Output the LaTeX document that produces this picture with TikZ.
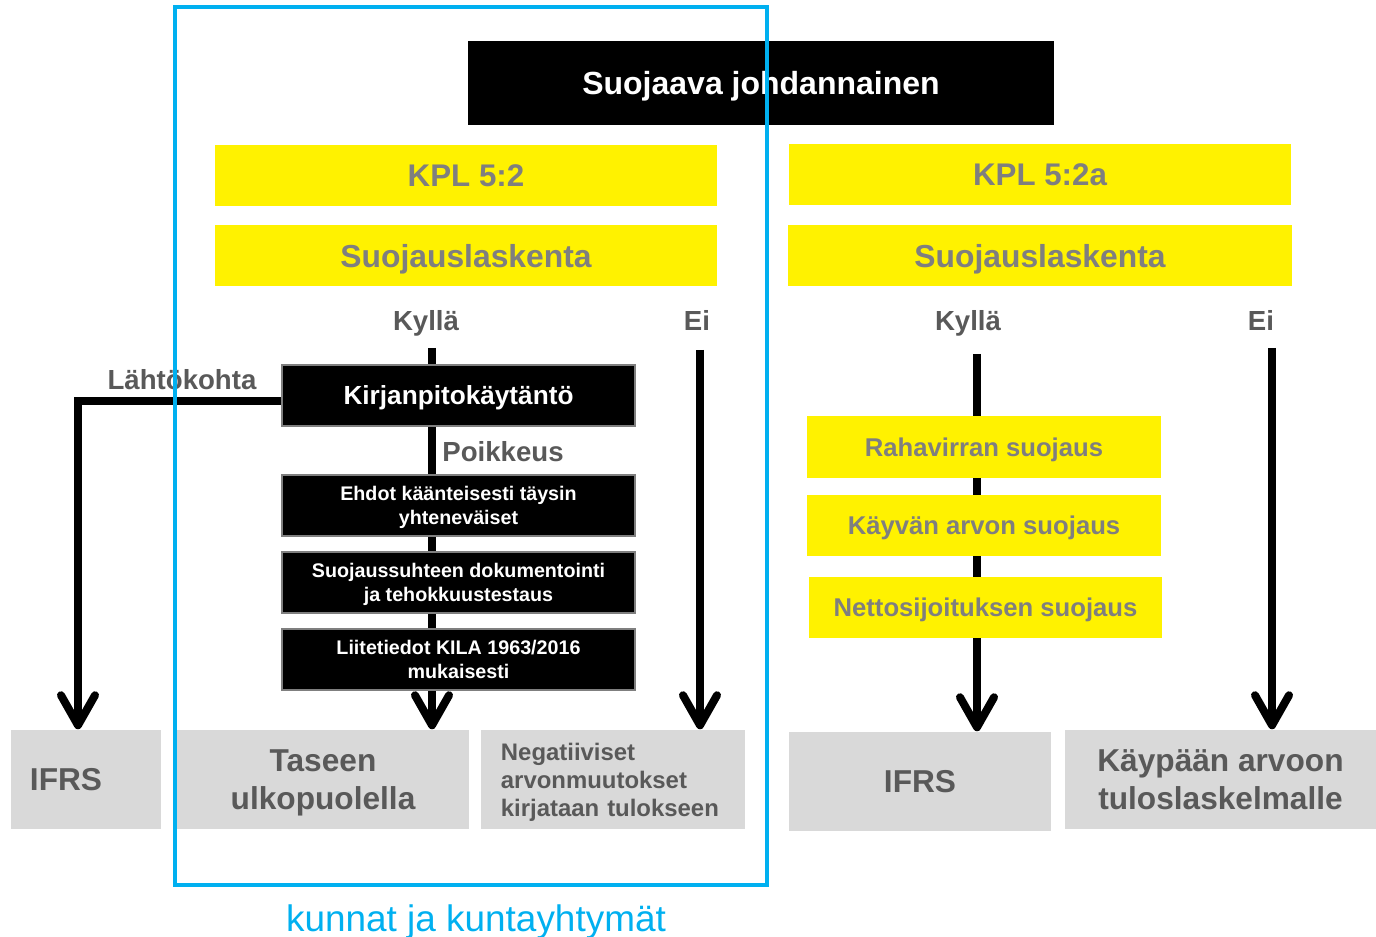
\documentclass[tikz,border=0pt]{standalone}
\usepackage{fontspec}
\setmainfont{Liberation Sans}
\usepackage{tikz}
\usetikzlibrary{arrows.meta}
\usetikzlibrary{backgrounds, calc}

\definecolor{kyellow}{RGB}{255,242,0}
\definecolor{kgray}{RGB}{217,217,217}
\definecolor{kdark}{RGB}{89,89,89}
\definecolor{kmid}{RGB}{127,127,127}
\definecolor{kblue}{RGB}{0,176,240}

\newcommand{\fsz}[2]{\fontsize{#1}{#2}\selectfont}

\begin{document}
\begin{tikzpicture}[x=0.01cm,y=-0.01cm]
	\tikzstyle{every node}=[inner sep=0pt, text depth=0pt]
	\tikzstyle{ybox}=[fill=kyellow, text=kmid, font=\bfseries]
	\tikzstyle{bbox}=[fill=black, draw=kmid, line width=0.6pt, text=white, align=center, minimum width=3.53cm, minimum height=0.61cm]
	\tikzstyle{gbox}=[fill=kgray, text=kdark, align=center, minimum height=0.99cm]
	\tikzstyle{lbl}=[text=kdark, font=\bfseries\fsz{7.85}{9}]
	\tikzstyle{flow}=[line width=0.08cm, -{Straight Barb[length=0.3cm,width=0.34cm,round]}]
	
	\useasboundingbox (0,0) rectangle (1376,937);
	
	\node [fill=black, text=white, font=\bfseries\fsz{9.1}{11}, minimum width=5.86cm, minimum height=0.84cm] (deriv) at (761,83) {Suojaava johdannainen};
	
	\node [ybox, font=\bfseries\fsz{8.9}{11}, minimum width=5.02cm, minimum height=0.61cm] (kplA) at (466,175.5) {KPL 5:2};
	\node [ybox, font=\bfseries\fsz{8.9}{11}, minimum width=5.02cm, minimum height=0.61cm] (kplB) at (1040,174.5) {KPL 5:2a};
	\node [ybox, font=\bfseries\fsz{9.05}{11}, minimum width=5.02cm, minimum height=0.61cm] (suojA) at (466,255.5) {Suojauslaskenta};
	\node [ybox, font=\bfseries\fsz{9.05}{11}, minimum width=5.03cm, minimum height=0.61cm] (suojB) at (1040,255.5) {Suojauslaskenta};
	
	\node [lbl] (kyllaA) at (426,320) {Kyllä};
	\node [lbl] (eiA) at (697,320) {Ei};
	\node [lbl] (kyllaB) at (968,320) {Kyllä};
	\node [lbl] (eiB) at (1261,320) {Ei};
	\node [lbl] (lahto) at (182,379) {Lähtökohta};
	\node [lbl] (poikkeus) at (503,451) {Poikkeus};
	
	% kunnat: kirjanpitokaytanto ja poikkeus
	\node [bbox, font=\bfseries\fsz{7.45}{9}] (kirjanp) at (458.5,395.5) {Kirjanpitokäytäntö};
	\node [bbox, font=\bfseries\fsz{5.6}{6.8}] (ehdot) at (458.5,505.5) {Ehdot käänteisesti täysin\\yhteneväiset};
	\node [bbox, font=\bfseries\fsz{5.6}{6.8}] (suhde) at (458.5,582.5) {Suojaussuhteen dokumentointi\\ja tehokkuustestaus};
	\node [bbox, font=\bfseries\fsz{5.6}{6.8}] (liite) at (458.5,659.5) {Liitetiedot KILA 1963/2016\\mukaisesti};
	
	\node [ybox, font=\bfseries\fsz{7.3}{9}, minimum width=3.54cm, minimum height=0.62cm] (rahav) at (984,447) {Rahavirran suojaus};
	\node [ybox, font=\bfseries\fsz{7.3}{9}, minimum width=3.54cm, minimum height=0.61cm] (kayvan) at (984,525.5) {Käyvän arvon suojaus};
	\node [ybox, font=\bfseries\fsz{7.3}{9}, minimum width=3.53cm, minimum height=0.61cm] (netto) at (985.5,607.5) {Nettosijoituksen suojaus};
	
	\node [gbox, font=\bfseries\fsz{9}{10.8}, align=left, text width=1.12cm, inner xsep=0.19cm] (ifrsA) at (86,779.5) {IFRS};
	\node [gbox, font=\bfseries\fsz{9}{10.8}, minimum width=2.92cm] (taseen) at (323,779.5) {Taseen\\ulkopuolella};
	\node [gbox, font=\bfseries\fsz{6.8}{8}, align=left, text width=2.24cm, inner xsep=0.2cm, text height=4.9pt, text depth=15.6pt] (negat) at (613,779.5) {Negatiiviset\\arvonmuutokset\\kirjataan tulokseen};
	\node [gbox, font=\bfseries\fsz{9}{10.8}, minimum width=2.62cm] (ifrsB) at (920,781.5) {IFRS};
	\node [gbox, font=\bfseries\fsz{9}{10.8}, minimum width=3.11cm] (kaypa) at (1220.5,779.5) {Käypään arvoon\\tuloslaskelmalle};
	
	\coordinate (kA) at (432,348);
	\coordinate (eA) at (700,350);
	\coordinate (kB) at (977,354);
	\coordinate (eB) at (1272,348);
	
	\begin{scope}[on background layer]
	\draw [flow] (kA) -- (kA |- taseen.north);
	\draw [flow] (eA) -- (eA |- negat.north);
	\draw [flow] ([yshift=-0.055cm]kirjanp.west) -| ([xshift=-0.08cm]ifrsA.north);
	\draw [flow] (kB) -- (kB |- ifrsB.north);
	\draw [flow] (eB) -- (eB |- kaypa.north);
	\end{scope}
	
	\draw [kblue, line width=0.04cm] (175,7) rectangle (767,885);
	\node [text=kblue, font=\fsz{10.5}{12}] (kunnat) at (476,918) {kunnat ja kuntayhtymät};
	
\end{tikzpicture}
\end{document}
